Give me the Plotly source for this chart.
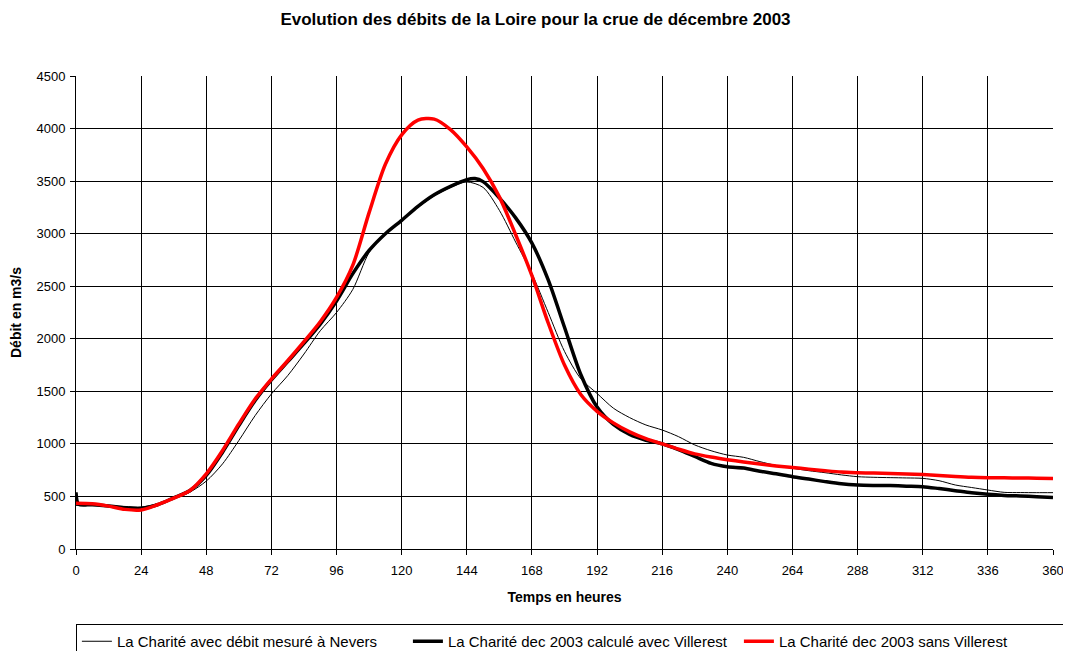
import plotly.graph_objects as go

# ---- data (hours, discharge m3/s) ----
hours = [0, 6, 12, 18, 24, 30, 36, 42, 48, 54, 60, 66, 72, 78, 84, 90, 96, 102, 108, 114,
         120, 126, 132, 138, 144, 150, 156, 162, 168, 174, 180, 186, 192, 198, 204, 210,
         216, 222, 228, 234, 240, 246, 252, 258, 264, 270, 276, 282, 288, 294, 300, 306,
         312, 318, 324, 330, 336, 342, 348, 354, 360]

nevers = [415, 415, 413, 405, 400, 430, 478, 541, 646, 810, 1032, 1269, 1475, 1649, 1855,
          2076, 2250, 2470, 2820, 3000, 3127, 3250, 3360, 3440, 3492, 3440, 3222, 2920,
          2619, 2250, 1880, 1620, 1480, 1340, 1250, 1180, 1132, 1069, 990, 935, 894, 872,
          831, 795, 768, 745, 726, 705, 688, 682, 679, 676, 672, 650, 609, 585, 561, 539,
          537, 536, 536]

hours_villerest = [0, 1, 6, 12, 18, 24, 30, 36, 42, 48, 54, 60, 66, 72, 78, 84, 90, 96, 102,
                   108, 114, 120, 126, 132, 138, 144, 147, 150, 156, 162, 168, 174, 180,
                   186, 192, 198, 204, 210, 216, 222, 228, 234, 240, 246, 252, 258, 264,
                   270, 276, 282, 288, 294, 300, 306, 312, 318, 324, 330, 336, 342, 348,
                   354, 360]
avec_villerest = [540, 425, 422, 410, 392, 385, 421, 487, 557, 700, 921, 1174, 1412, 1608,
                  1782, 1956, 2140, 2360, 2620, 2840, 3000, 3127, 3260, 3370, 3450, 3514,
                  3525, 3495, 3340, 3150, 2910, 2560, 2110, 1660, 1350, 1185, 1090, 1035,
                  1000, 945, 880, 815, 783, 770, 740, 715, 688, 665, 641, 620, 609, 605,
                  603, 598, 593, 575, 555, 535, 520, 510, 505, 498, 490]

sans_villerest = [435, 430, 408, 377, 372, 421, 484, 557, 715, 937, 1190, 1427, 1617, 1791,
                  1972, 2162, 2393, 2700, 3200, 3660, 3940, 4080, 4090, 3990, 3825, 3620,
                  3350, 2990, 2600, 2150, 1750, 1470, 1310, 1200, 1115, 1050, 1000, 950,
                  905, 875, 850, 828, 808, 790, 775, 760, 745, 732, 726, 722, 718, 714, 708,
                  700, 690, 682, 678, 677, 676, 674, 670]

names = ["La Charité avec débit mesuré à Nevers",
         "La Charité dec 2003 calculé avec Villerest",
         "La Charité dec 2003 sans Villerest"]

x_ticks = list(range(0, 361, 24))
y_ticks = list(range(0, 4501, 500))

FONT = "Liberation Sans, Arial, sans-serif"
W, H = 1063, 643  # page body has an 8px margin

fig = go.Figure()
fig.add_trace(go.Scatter(x=hours, y=nevers, name=names[0], mode="lines",
                         line=dict(color="black", width=1, shape="spline", smoothing=0.8)))
fig.add_trace(go.Scatter(x=hours_villerest, y=avec_villerest, name=names[1], mode="lines",
                         line=dict(color="black", width=3.5, shape="spline", smoothing=0.8)))
fig.add_trace(go.Scatter(x=hours, y=sans_villerest, name=names[2], mode="lines",
                         line=dict(color="#ff0000", width=3.5, shape="spline", smoothing=0.8)))

fig.update_layout(
    width=W, height=H,
    margin=dict(l=68, r=18, t=68, b=102, autoexpand=False),
    paper_bgcolor="white", plot_bgcolor="white",
    font=dict(family=FONT, size=13, color="black"),
    title=dict(text="<b>Evolution des débits de la Loire pour la crue de décembre 2003</b>",
               x=527.5 / W, xanchor="center", xref="container", y=1 - 11 / H, yref="container",
               yanchor="middle", font=dict(size=17)),
    showlegend=True,
    legend=dict(orientation="h", x=-0.0001, xanchor="left", xref="paper",
                y=-(624 - 549) / 473, yanchor="top", bordercolor="black", borderwidth=1,
                font=dict(size=15), entrywidth=286, entrywidthmode="pixels",
                itemwidth=30, tracegroupgap=0),
)

fig.update_xaxes(range=[0, 360], tickvals=x_ticks, showgrid=True, gridcolor="black",
                 gridwidth=1, showline=True, linecolor="black", linewidth=1, mirror=False,
                 ticks="outside", ticklen=5, tickcolor="black", zeroline=False,
                 automargin=False, ticklabelstandoff=4,
                 title=dict(text="<b>Temps en heures</b>", standoff=15, font=dict(size=14)))
fig.update_yaxes(range=[0, 4500], tickvals=y_ticks, showgrid=True, gridcolor="black",
                 gridwidth=1, showline=True, linecolor="black", linewidth=1,
                 ticks="outside", ticklen=5, tickcolor="black", zeroline=False,
                 automargin=False, ticklabelstandoff=2,
                 title=dict(text="<b>Débit en m3/s</b>", standoff=12, font=dict(size=14)))

fig.write_html("out.html")
